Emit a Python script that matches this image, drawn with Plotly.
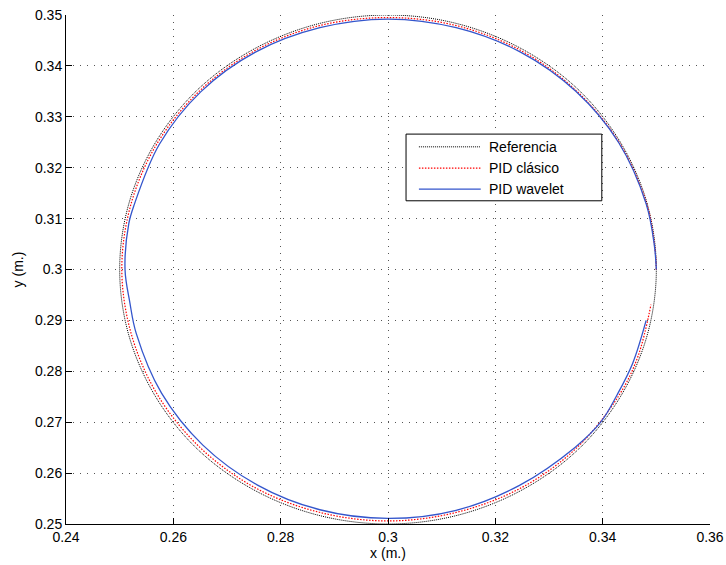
import plotly.graph_objects as go

# Circular trajectory (metres): reference path and the two controller responses
ref_x = [0.3500, 0.3483, 0.3433, 0.3354, 0.3250, 0.3129, 0.3000, 0.2871, 0.2750,
         0.2646, 0.2567, 0.2517, 0.2500, 0.2517, 0.2567, 0.2646, 0.2750, 0.2871,
         0.3000, 0.3129, 0.3250, 0.3354, 0.3433, 0.3483, 0.3500]
ref_y = [0.3000, 0.3129, 0.3250, 0.3354, 0.3433, 0.3483, 0.3500, 0.3483, 0.3433,
         0.3354, 0.3250, 0.3129, 0.3000, 0.2871, 0.2750, 0.2646, 0.2567, 0.2517,
         0.2500, 0.2517, 0.2567, 0.2646, 0.2750, 0.2871, 0.3000]

pid_x = [0.3500, 0.3497, 0.3482, 0.3431, 0.3351, 0.3248, 0.3128, 0.3000, 0.2872,
         0.2752, 0.2649, 0.2570, 0.2521, 0.2504, 0.2522, 0.2571, 0.2650, 0.2753,
         0.2872, 0.3000, 0.3128, 0.3248, 0.3351, 0.3430, 0.3466, 0.3490]
pid_y = [0.3000, 0.3045, 0.3129, 0.3249, 0.3351, 0.3430, 0.3479, 0.3495, 0.3479,
         0.3430, 0.3351, 0.3248, 0.3128, 0.3000, 0.2872, 0.2753, 0.2650, 0.2571,
         0.2523, 0.2506, 0.2523, 0.2571, 0.2649, 0.2752, 0.2830, 0.2931]

wav_x = [0.3500, 0.3496, 0.3481, 0.3430, 0.3350, 0.3247, 0.3127, 0.3000, 0.2873,
         0.2753, 0.2651, 0.2574, 0.2527, 0.2517, 0.2510, 0.2519, 0.2531, 0.2578,
         0.2655, 0.2756, 0.2873, 0.3000, 0.3127, 0.3245, 0.3349, 0.3397, 0.3427,
         0.3456, 0.3481]
wav_y = [0.3000, 0.3050, 0.3129, 0.3249, 0.3350, 0.3427, 0.3475, 0.3492, 0.3475,
         0.3427, 0.3349, 0.3246, 0.3127, 0.3090, 0.3000, 0.2935, 0.2874, 0.2757,
         0.2655, 0.2577, 0.2528, 0.2511, 0.2527, 0.2576, 0.2651, 0.2701, 0.2754,
         0.2816, 0.2900]

series_names = ["Referencia", "PID clásico", "PID wavelet"]

x_ticks = [0.24, 0.26, 0.28, 0.30, 0.32, 0.34, 0.36]
x_tick_text = ["0.24", "0.26", "0.28", "0.3", "0.32", "0.34", "0.36"]
y_ticks = [0.25, 0.26, 0.27, 0.28, 0.29, 0.30, 0.31, 0.32, 0.33, 0.34, 0.35]
y_tick_text = ["0.25", "0.26", "0.27", "0.28", "0.29", "0.3",
               "0.31", "0.32", "0.33", "0.34", "0.35"]

FONT = "Liberation Sans, Arial, Helvetica, sans-serif"
styles = [
    dict(color="black", width=1, dash="1px,1px"),
    dict(color="#ff0000", width=1.2, dash="1.5px,1.5px"),
    dict(color="#3355cc", width=1.3, dash="solid"),
]

fig = go.Figure()
for xs, ys, name, st in zip([ref_x, pid_x, wav_x], [ref_y, pid_y, wav_y],
                            series_names, styles):
    fig.add_trace(go.Scatter(x=xs, y=ys, mode="lines", name=name,
                             line=dict(shape="spline", smoothing=1.0, **st),
                             showlegend=False))

axis_common = dict(
    showline=True, linecolor="black", linewidth=1, mirror=False,
    ticks="inside", ticklen=6, tickcolor="black", tickwidth=1,
    showgrid=True, gridcolor="#555555", gridwidth=1, griddash="1px,6px",
    zeroline=False, tickfont=dict(family=FONT, size=14, color="black"),
)

fig.update_xaxes(range=[0.24, 0.36], tickvals=x_ticks, ticktext=x_tick_text,
                 title=dict(text="x (m.)", font=dict(family=FONT, size=14, color="black"),
                            standoff=0),
                 **axis_common)
fig.update_yaxes(range=[0.25, 0.35], tickvals=y_ticks, ticktext=y_tick_text,
                 title=dict(text="y (m.)", font=dict(family=FONT, size=14, color="black"),
                            standoff=8),
                 **axis_common)

# Legend box drawn in paper coordinates with long line samples
shapes = [dict(type="rect", xref="paper", yref="paper", x0=0.528, x1=0.832,
               y0=0.635, y1=0.766, line=dict(color="black", width=1),
               fillcolor="white", layer="above")]
annotations = []
rows = [0.741, 0.699, 0.658]
for name, st, yr in zip(series_names, styles, rows):
    shapes.append(dict(type="line", xref="paper", yref="paper", x0=0.548, x1=0.644,
                       y0=yr, y1=yr, layer="above",
                       line=dict(color=st["color"], width=st["width"], dash=st["dash"])))
    annotations.append(dict(xref="paper", yref="paper", x=0.654, y=yr, text=name,
                            showarrow=False, xanchor="left", yanchor="middle",
                            font=dict(family=FONT, size=14, color="black")))

fig.update_layout(
    width=726, height=565,
    margin=dict(l=66, r=16, t=15, b=41, autoexpand=False),
    paper_bgcolor="white", plot_bgcolor="white",
    shapes=shapes, annotations=annotations,
    showlegend=False,
)

fig.write_html("out.html")
